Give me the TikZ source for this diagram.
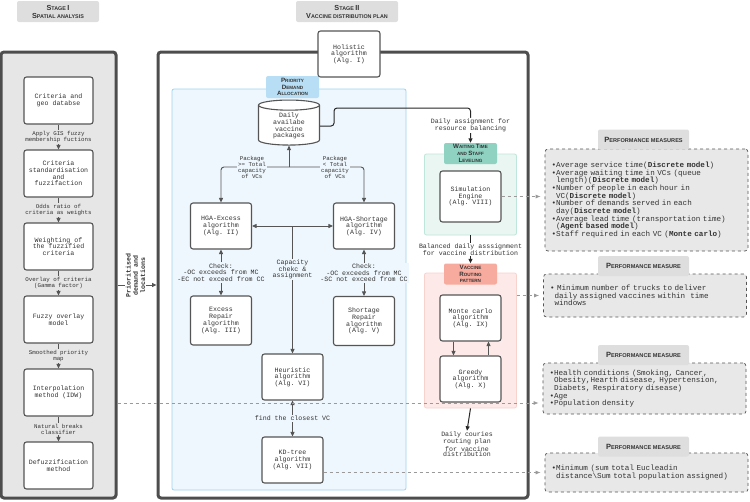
\documentclass[tikz,border=0pt]{standalone}
\usepackage{fontspec}
\setmonofont{Liberation Mono}
\setsansfont{Liberation Sans}
\usetikzlibrary{shapes.geometric,arrows.meta}

\definecolor{frame}{HTML}{4D4D4D}
\definecolor{boxline}{HTML}{555555}
\definecolor{txt}{HTML}{333333}
\definecolor{panelgray}{HTML}{E6E6E6}
\definecolor{taggray}{HTML}{DEDEDE}
\definecolor{bluepanel}{HTML}{EEF7FD}
\definecolor{blueline}{HTML}{9FD3EE}
\definecolor{bluetag}{HTML}{B7DEF4}
\definecolor{greenpanel}{HTML}{E9F6F2}
\definecolor{greenline}{HTML}{BFE6DB}
\definecolor{greentag}{HTML}{8FD2C2}
\definecolor{pinkpanel}{HTML}{FDEAE8}
\definecolor{pinkline}{HTML}{F8D3CE}
\definecolor{pinktag}{HTML}{F7AA9E}
\definecolor{perffill}{HTML}{E8E8E8}
\definecolor{dashc}{HTML}{9A9A9A}

\newcommand{\capw}[2]{\scalebox{1.35}{#1}#2}
\newcommand{\boxfont}{\ttfamily\fontsize{6.6}{6.7}\selectfont}
\newcommand{\smallfont}{\ttfamily\fontsize{5.8}{6.0}\selectfont}
\newcommand{\perffont}{\ttfamily\fontsize{7.6}{7.7}\selectfont}

\begin{document}
\begin{tikzpicture}[x=1pt, y=-1pt, >={Triangle[length=4.5pt,width=4pt]},
  algo/.style={draw=boxline, fill=white, line width=1.1pt, rounded corners=2.5pt,
    align=center, font=\boxfont, text=txt, inner sep=1pt,
    minimum width=61pt, minimum height=46pt},
  sabox/.style={algo, minimum width=69pt, minimum height=47pt},
  stagepanel/.style={draw=frame, line width=3pt, rounded corners=3pt},
  panel/.style={line width=0.8pt, rounded corners=2pt},
  tag/.style={fill=taggray, rounded corners=2pt, align=center, text=txt, inner sep=1pt,
    font=\sffamily\bfseries\fontsize{4.6}{6.8}\selectfont,
    minimum width=53pt, minimum height=21pt},
  stagetag/.style={tag, font=\sffamily\bfseries\fontsize{5.4}{8}\selectfont, minimum height=21pt},
  perftag/.style={tag, font=\sffamily\bfseries\fontsize{5.6}{6.5}\selectfont,
    minimum width=91pt, minimum height=20pt},
  perf/.style={draw=boxline, dashed, fill=perffill, rounded corners=3pt, line width=0.7pt,
    align=left, font=\perffont, text=txt, text width=190pt, inner xsep=6.5pt},
  flow/.style={draw=boxline, line width=0.9pt, ->},
  flowk/.style={draw=black!85, line width=1pt, ->},
  dashlink/.style={draw=dashc, dashed, line width=0.8pt, shorten >=4pt,
    -{Latex[length=5pt,width=4pt]}},
  lbl/.style={align=center, font=\boxfont, text=txt, inner sep=1pt},
  slbl/.style={lbl, font=\smallfont, fill=panelgray},
  blbl/.style={lbl, fill=bluepanel},
  pkglbl/.style={lbl, font=\smallfont, fill=bluepanel},
  wlbl/.style={lbl, fill=white},
  prio/.style={lbl, fill=white, rotate=90, font=\ttfamily\bfseries\fontsize{6.6}{7.3}\selectfont}]

\useasboundingbox (0,0) rectangle (750,501);

\def\xa{58.5}; % stage I column
\def\xm{292.5}; % heuristic column
\def\xe{221}; % excess column
\def\xs{364}; % shortage column
\def\xg{470.5}; % simulation / routing column
\def\xp{646.5}; % performance column

% Stage I
\node[stagepanel, fill=panelgray, minimum width=115pt, minimum height=446pt] (spatial) at (\xa,275) {};
\node[stagetag, minimum width=82pt] (stagei) at (58,11.5) {\capw{S}{TAGE} \capw{I}{}\\\capw{S}{PATIAL ANALYSIS}};

\node[sabox] (critdb) at (\xa,100.5) {Criteria and\\geo databse};
\node[sabox] (stdz) at (\xa,173.5) {Criteria\\standardisation\\and\\fuzzifaction};
\node[sabox] (weight) at (\xa,246.5) {Weighting of\\the fuzzified\\criteria};
\node[sabox] (fuzzy) at (\xa,319.5) {Fuzzy overlay\\model};
\node[sabox] (idw) at (\xa,392.5) {Interpolation\\method (IDW)};
\node[sabox] (defuzz) at (\xa,465.5) {Defuzzification\\method};

\draw[flow] (critdb) -- node[slbl] {Apply GIS fuzzy\\membership fuctions} (stdz);
\draw[flow] (stdz) -- node[slbl] {Odds ratio of\\criteria as weights} (weight);
\draw[flow] (weight) -- node[slbl] {Overlay of criteria\\(Gamma factor)} (fuzzy);
\draw[flow] (fuzzy) -- node[slbl] {Smoothed priority\\map} (idw);
\draw[flow] (idw) -- node[slbl] {Natural breaks\\classifier} (defuzz);

% Stage II
\node[stagepanel, fill=white, minimum width=370pt, minimum height=446pt] (distrib) at (343,275) {};
\node[stagetag, minimum width=102pt] (stageii) at (347,11.5) {\capw{S}{TAGE} \capw{II}{}\\\capw{V}{ACCINE DISTRIBUTION PLAN}};
\node[algo, minimum width=62pt] (holistic) at (349,54) {Holistic\\algorithm\\(Alg. I)};

\node[panel, draw=blueline, fill=bluepanel, minimum width=234pt, minimum height=401pt] (pda) at (289,289.5) {};
\node[tag, fill=bluetag, minimum height=22pt] (pdatag) at (292.5,87) {\capw{P}{RIORITY}\\\capw{D}{EMAND}\\\capw{A}{LLOCATION}};

\node[panel, draw=greenline, fill=greenpanel, minimum width=92pt, minimum height=81pt] (wtsl) at (\xg,194.5) {};
\node[tag, fill=greentag] (wtsltag) at (\xg,153.5) {\capw{W}{AITING} \capw{T}{IME}\\AND \capw{S}{TAFF}\\\capw{L}{EVELING}};
\node[panel, draw=pinkline, fill=pinkpanel, minimum width=92pt, minimum height=135pt] (route) at (\xg,340.5) {};
\node[tag, fill=pinktag] (routetag) at (\xg,274) {\capw{V}{ACCINE}\\\capw{R}{OUTING}\\PATTERN};

\node[cylinder, shape border rotate=90, aspect=0.3, draw=boxline, fill=white, line width=1.1pt,
  minimum width=61pt, minimum height=45pt, align=center, font=\boxfont, text=txt,
  inner sep=1pt] (packages) at (289,126) {Daily\\availabe\\vaccine\\packages};

\node[algo] (hgaex) at (\xe,226) {HGA-Excess\\algorithm\\(Alg. II)};
\node[algo] (hgash) at (\xs,226) {HGA-Shortage\\algorithm\\(Alg. IV)};
\node[algo, minimum height=49pt] (exrep) at (\xe,320.5) {Excess\\Repair\\algorithm\\(Alg. III)};
\node[algo, minimum height=49pt] (shrep) at (\xs,321) {Shortage\\Repair\\algorithm\\(Alg. V)};
\node[algo] (heur) at (\xm,377) {Heuristic\\algorithm\\(Alg. VI)};
\node[algo] (kdtree) at (\xm,460) {KD-tree\\algorithm\\(Alg. VII)};
\node[algo, minimum height=51pt] (sim) at (\xg,196.5) {Simulation\\Engine\\(Alg. VIII)};
\node[algo] (monte) at (\xg,318) {Monte carlo\\algorithm\\(Alg. IX)};
\node[algo] (greedy) at (\xg,379) {Greedy\\algorithm\\(Alg. X)};
\node[lbl, font=\ttfamily\fontsize{6.6}{5.9}\selectfont] (couriers) at (467,444.5) {Daily couries\\routing plan\\for vaccine\\distribution};

% allocation links
\coordinate (split) at (packages.south |- 0,167);
\draw[flow, rounded corners=3pt] (split) -| (hgaex.north);
\draw[flow, rounded corners=3pt] (split) -| (hgash.north);
\draw[flow] (split) -- (packages.south);
\node[pkglbl] (pkgge) at (252,167) {Package\\>= Total\\capacity\\of VCs};
\node[pkglbl] (pkglt) at (335,167) {Package\\< Total\\capacity\\of VCs};

\coordinate (cap) at (heur.north |- hgaex.east);
\draw[flow] (cap) -- (hgaex.east);
\draw[flow] (cap) -- (hgash.west);
\draw[flow] (cap) -- node[blbl, pos=0.34] {Capacity\\chekc \&\\assignment} (heur.north);

\draw[flow, <->] (hgaex) -- node[blbl] {Check:\\-OC exceeds from MC\\-EC not exceed from CC} (exrep);
\draw[flow, <->] (hgash) -- node[blbl] {Check:\\-OC exceeds from MC\\-SC not exceed from CC} (shrep);
\draw[flow, <->] (heur) -- node[blbl] {find the closest VC} (kdtree);

% balancing and routing links
\draw[flowk, rounded corners=3pt] (packages.east) -- ++(14,0) |- (wtsltag.north |- 0,108)
  -- node[wlbl] {Daily assignment for\\resource balancing} (wtsltag.north);
\draw[flowk] (wtsl.south) -- node[wlbl] {Balanced daily asssignment\\for vaccine distribution} (routetag.north);
\draw[flow] ([xshift=-17pt]monte.south) -- ([xshift=-17pt]greedy.north);
\draw[flow] ([xshift=18pt]greedy.north) -- ([xshift=18pt]monte.south);
\draw[flowk] (route.south) -- (couriers.north);

% stage I to stage II
\draw[flow] (spatial.east |- 0,285) -- (distrib.west |- 0,285);
\node[prio] (prio) at (135.5,275.5) {Prioritised\\demand and\\locations};

% performance measures
\node[perf, minimum height=102pt] (pm1) at (\xp,200) {%
\textbullet Average service time(\textbf{Discrete model})\\
\textbullet Average waiting time in VCs (queue\\
\phantom{\textbullet}length)(\textbf{Discrete model})\\
\textbullet Number of people in each hour in\\
\phantom{\textbullet}VC(\textbf{Discrete model})\\
\textbullet Number of demands served in each\\
\phantom{\textbullet}day(\textbf{Discrete model})\\
\textbullet Average lead time (transportation time)\\
\phantom{\textbullet}(\textbf{Agent based model})\\
\textbullet Staff required in each VC (\textbf{Monte carlo})};
\node[perf, minimum height=43pt] (pm2) at (645,295.5) {%
\textbullet\ Minimum number of trucks to deliver\\
\phantom{\textbullet}daily assigned vaccines within\ \ time\\
\phantom{\textbullet}windows};
\node[perf, minimum height=51pt] (pm3) at (644.5,388.5) {%
\textbullet Health conditions (Smoking, Cancer,\\
\phantom{\textbullet}Obesity,Hearth disease, Hypertension,\\
\phantom{\textbullet}Diabets, Respiratory disease)\\
\textbullet Age\\
\textbullet Population density};
\node[perf, minimum height=39pt] (pm4) at (\xp,472.5) {%
\textbullet Minimum (sum total Eucleadin\\
\phantom{\textbullet}distance\textbackslash Sum total population assigned)};

\node[perftag] (pmtag1) at (643.5,139.5) {\capw{P}{ERFORMANCE MEASURES}};
\node[perftag] (pmtag2) at (643.5,266) {\capw{P}{ERFORMANCE MEASURE}};
\node[perftag] (pmtag3) at (643.5,355) {\capw{P}{ERFORMANCE MEASURE}};
\node[perftag] (pmtag4) at (643.5,446.5) {\capw{P}{ERFORMANCE MEASURE}};

\draw[dashlink] (sim.east) -- (sim.east -| pm1.west);
\draw[dashlink] (route.east |- pm2.west) -- (pm2.west);
\draw[dashlink] (spatial.east |- 0,403) -- (pm3.west |- 0,403);
\draw[dashlink] (kdtree.east |- pm4.west) -- (pm4.west);

\end{tikzpicture}
\end{document}
